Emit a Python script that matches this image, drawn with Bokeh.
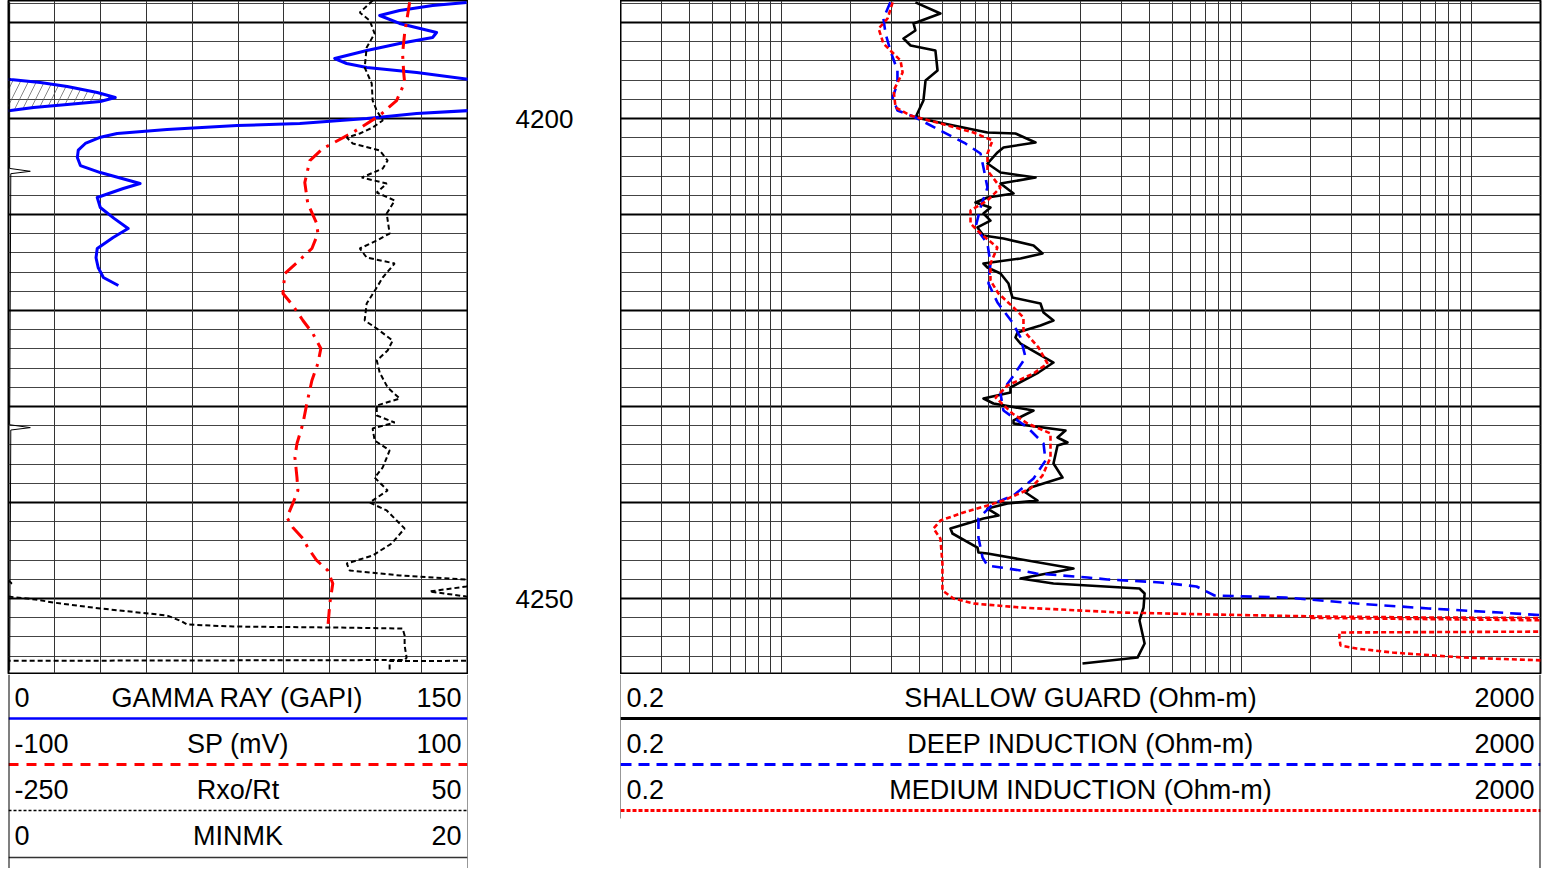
import math
from bokeh.plotting import figure
from bokeh.layouts import row, column
from bokeh.models import Range1d, FixedTicker, Grid, Span, Spacer
from bokeh.core.properties import value
from bokeh.embed import file_html
from bokeh.resources import INLINE

DEPTH_LABELS = [4200, 4250]

GR_DEPTH = [4187.92, 4188.23, 4188.75, 4189.27, 4190.10, 4191.04, 4191.56, 4192.19, 4192.92, 4193.75,
            4194.27, 4194.69, 4195.21, 4195.94, 4196.25, 4196.67, 4197.29, 4197.81, 4198.23, 4198.54,
            4198.85, 4199.17, 4199.48, 4200.00, 4200.52, 4200.73, 4201.15, 4201.56, 4201.98, 4202.60,
            4203.30, 4204.06, 4204.90, 4205.63, 4206.77, 4207.29, 4208.23, 4209.27, 4210.40, 4211.46,
            4212.40, 4213.54, 4214.50, 4215.52, 4216.56, 4217.40]
GR_VALUE = [149.7, 138.6, 127.8, 121.3, 127.8, 139.9, 138.6, 127.8, 117.1, 106.6,
            110.5, 117.1, 133.4, 150.7, 160.4, 169.2, 179.0, 184.9, 180.0, 169.2,
            158.2, 150.7, 133.4, 117.1, 95.2, 74.7, 51.8, 35.5, 29.7, 25.1,
            22.8, 22.5, 23.5, 30.0, 43.0, 37.5, 29.0, 30.0, 34.5, 39.1,
            34.2, 29.0, 28.6, 29.3, 31.0, 35.9]

SP_DEPTH = [4187.9, 4191.15, 4193.23, 4195.21, 4196.25, 4198.13, 4199.69, 4201.46, 4203.13, 4204.38,
            4206.67, 4208.85, 4210.94, 4211.98, 4213.54, 4215.0, 4216.15, 4218.23, 4219.48, 4221.04,
            4222.40, 4223.96, 4225.52, 4227.29, 4229.69, 4231.77, 4233.85, 4235.31, 4237.40, 4238.75,
            4240.10, 4241.56, 4242.60, 4243.75, 4244.69, 4246.04, 4247.08, 4248.44, 4250.52, 4253.13]
SP_VALUE = [74.8, 72.6, 71.7, 72.2, 72.6, 69.1, 61.7, 50.0, 37.0, 31.3,
            29.1, 30.4, 34.3, 34.8, 32.2, 25.7, 20.4, 19.6, 23.9, 28.3,
            32.6, 36.1, 34.8, 32.2, 30.0, 28.3, 25.7, 24.8, 25.7, 26.1,
            23.9, 21.3, 23.9, 28.3, 30.4, 34.3, 39.1, 41.3, 40.0, 39.1]

RXO_DEPTH = [4187.71, 4188.96, 4189.79, 4191.15, 4192.60, 4194.69, 4196.35, 4198.13, 4199.17, 4200.21,
             4200.94, 4201.56, 4201.98, 4202.60, 4203.33, 4204.38, 4205.21, 4206.15, 4206.77, 4207.71,
             4208.54, 4209.90, 4211.98, 4212.71, 4213.54, 4214.48, 4215.10, 4216.56, 4217.60, 4219.27,
             4221.04, 4221.88, 4223.13, 4224.17, 4225.21, 4226.46, 4228.02, 4229.17, 4229.90, 4230.94,
             4231.67, 4232.29, 4233.54, 4234.58, 4236.35, 4237.40, 4238.75, 4240.00, 4240.83, 4242.71,
             4244.27, 4245.52, 4246.35, 4247.08, 4247.60, 4248.02, 4248.40, 4248.75, 4249.27, 4249.79,
             4250.10, 4250.42, 4251.04, 4251.77, 4252.40, 4252.71, 4252.92, 4253.02, 4253.13, 4253.85,
             4254.90, 4256.15, 4256.41, 4256.51, 4257.50]
RXO_VALUE = [-12.0, -20.4, -13.9, -10.7, -15.9, -17.2, -12.6, -12.0, -9.3, -5.4,
             -12.0, -20.4, -28.9, -25.0, -7.4, -2.2, -5.4, -19.1, -2.8, -9.3,
             2.4, -2.8, -0.9, -9.3, -20.4, -15.9, 2.4, -5.4, -9.3, -15.9,
             -17.2, -9.3, 1.1, -2.2, -9.3, -7.4, -2.2, 5.7, -9.3, -9.3,
             2.4, -12.0, -10.7, -0.9, -5.4, -10.7, -2.2, -13.9, -2.8, 8.9,
             0.4, -12.0, -28.9, -27.0, 5.7, 49.3, 52.0, 49.3, 25.2, 49.3,
             67.6, 79.3, 110.0, 153.7, 163.5, 166.7, 196.7, 262.0, 307.6, 308.9,
             308.9, 310.2, 309.0, -0.9, -0.9]

MINMK_DEPTH = [4187.9, 4205.2, 4205.5, 4205.75, 4231.9, 4232.2, 4232.45, 4257.5]
MINMK_VALUE = [0.05, 0.05, 0.95, 0.1, 0.05, 0.95, 0.1, 0.05]

SG_DEPTH = [4187.9, 4189.06, 4190.10, 4190.83, 4191.67, 4192.40, 4192.92, 4195.0, 4196.04, 4198.13,
            4199.69, 4200.0, 4200.73, 4201.46, 4201.56, 4202.50, 4203.02, 4203.54, 4204.69, 4205.63,
            4206.15, 4206.77, 4207.81, 4208.23, 4208.75, 4209.27, 4209.90, 4210.63, 4211.35, 4212.19,
            4212.50, 4213.23, 4214.06, 4214.58, 4215.10, 4215.52, 4216.15, 4217.19, 4218.65, 4219.27,
            4220.21, 4221.04, 4221.56, 4222.29, 4222.81, 4223.44, 4225.42, 4226.46, 4228.02, 4228.54,
            4229.17, 4229.69, 4230.42, 4231.46, 4231.77, 4232.50, 4233.23, 4233.75, 4234.06, 4235.94,
            4237.40, 4238.44, 4238.96, 4239.79, 4240.10, 4240.63, 4241.35, 4241.67, 4242.08, 4242.71,
            4243.23, 4244.69, 4245.21, 4245.31, 4246.88, 4247.92, 4248.44, 4248.96, 4249.48, 4250.94,
            4252.29, 4254.69, 4256.15, 4256.77]
SG_VALUE = [3.83, 4.92, 3.76, 3.83, 3.40, 3.65, 4.68, 4.78, 4.24, 4.15,
            3.87, 4.03, 5.61, 7.88, 10.43, 12.75, 9.25, 8.71, 7.88, 8.98,
            12.75, 8.98, 10.23, 7.88, 6.99, 8.12, 7.57, 8.12, 7.13, 7.57,
            9.25, 12.50, 13.67, 10.97, 7.57, 7.88, 8.98, 9.73, 10.12, 13.40,
            13.81, 15.26, 13.40, 10.64, 10.43, 10.97, 15.26, 13.13, 9.92, 9.92,
            7.57, 8.37, 12.50, 10.23, 10.23, 17.21, 15.89, 17.56, 15.89, 15.26,
            16.70, 12.13, 11.54, 13.00, 9.63, 7.88, 8.80, 7.57, 6.65, 5.44,
            5.55, 7.13, 7.20, 7.88, 18.65, 10.97, 15.26, 36.1, 38.0, 37.6,
            36.1, 38.0, 35.4, 20.4]

ID_DEPTH = [4187.9, 4189.58, 4191.15, 4192.92, 4195.0, 4196.35, 4197.81, 4199.17, 4199.79, 4201.25,
            4202.60, 4203.65, 4205.10, 4207.19, 4209.27, 4211.35, 4213.02, 4215.10, 4217.19, 4219.17,
            4221.25, 4222.81, 4224.90, 4226.77, 4228.65, 4230.42, 4232.19, 4233.85, 4235.63, 4237.50,
            4239.27, 4240.10, 4241.67, 4243.65, 4245.73, 4246.56, 4247.08, 4247.40, 4247.81, 4248.02,
            4248.33, 4248.75, 4249.69, 4249.90, 4250.52, 4251.04, 4251.46, 4251.77, 4254.0, 4257.5]
ID_VALUE = [2.98, 2.78, 2.84, 2.98, 3.20, 3.20, 3.05, 3.20, 3.76, 4.92,
            6.32, 7.35, 7.57, 7.88, 7.35, 6.99, 7.88, 8.12, 7.96, 8.71,
            10.12, 10.97, 11.54, 10.23, 8.98, 9.25, 11.77, 13.81, 14.09, 12.50,
            10.23, 8.37, 7.20, 7.20, 7.50, 7.88, 10.97, 12.87, 21.5, 26.2,
            44.5, 63.9, 76.5, 155.7, 317, 652, 1327, 2103, 2600, 2800]

IM_DEPTH = [4187.9, 4189.58, 4190.63, 4192.19, 4193.96, 4195.21, 4197.08, 4198.85, 4199.69, 4200.52,
            4201.46, 4202.29, 4203.65, 4205.42, 4207.19, 4208.54, 4209.58, 4210.94, 4211.98, 4213.44,
            4215.10, 4216.88, 4218.23, 4219.69, 4220.73, 4222.08, 4223.85, 4225.52, 4226.56, 4227.81,
            4229.06, 4230.73, 4231.77, 4232.81, 4235.31, 4237.19, 4238.54, 4239.79, 4240.31, 4241.04,
            4241.88, 4242.71, 4243.75, 4246.35, 4249.17, 4250.0, 4250.52, 4250.94, 4251.46, 4251.67,
            4251.88, 4251.98, 4252.03, 4252.29, 4253.44, 4253.54, 4254.06, 4254.90, 4255.21, 4255.63,
            4256.15, 4256.46, 4257.5]
IM_VALUE = [3.05, 2.90, 2.65, 2.78, 3.30, 3.37, 3.08, 3.14, 3.65, 4.92,
            6.85, 8.29, 7.88, 7.88, 8.98, 7.88, 6.65, 6.65, 7.35, 8.71,
            8.12, 8.12, 8.80, 10.23, 11.30, 11.30, 13.13, 14.37, 12.50, 9.63,
            8.54, 10.12, 11.77, 14.81, 14.81, 13.67, 12.13, 9.25, 7.88, 6.20,
            4.92, 4.59, 4.92, 5.02, 5.02, 5.61, 6.85, 10.97, 29.9, 76.5,
            223, 652, 2103, 25000, 25000, 2670, 2670, 2700, 3170, 4550,
            9250, 21000, 25000]

LEFT_HEADERS = ["GAMMA RAY (GAPI)", "SP (mV)", "Rxo/Rt", "MINMK"]
LEFT_MIN = ["0", "-100", "-250", "0"]
LEFT_MAX = ["150", "100", "50", "20"]
RIGHT_HEADERS = ["SHALLOW GUARD (Ohm-m)", "DEEP INDUCTION (Ohm-m)", "MEDIUM INDUCTION (Ohm-m)"]
RIGHT_MIN = ["0.2", "0.2", "0.2"]
RIGHT_MAX = ["2000", "2000", "2000"]

# ---------------- helpers ----------------
FONT = "Liberation Sans"
FS = "27px"
FS_DEPTH = "26px"
TOP, BOT = 4187.708, 4257.8125   # frame spans page y 0 .. 673
NAN = float("nan")


def wrap(depth, vals, lim, fn, log=False):
    """Backup (wrap-around) display of the part of a curve beyond its scale limit."""
    tr = (lambda v: math.log10(v)) if log else (lambda v: v)
    D, V = [], []
    for i, (d, v) in enumerate(zip(depth, vals)):
        if i:
            d0, v0 = depth[i - 1], vals[i - 1]
            if (v0 - lim) * (v - lim) < 0:
                t = (tr(lim) - tr(v0)) / (tr(v) - tr(v0))
                dc = d0 + t * (d - d0)
                D.append(dc); V.append(fn(lim))
                if v < lim:
                    D.append(dc); V.append(NAN)
        if v >= lim:
            D.append(d); V.append(fn(v))
        elif not V or not math.isnan(V[-1]):
            D.append(d); V.append(NAN)
    return D, V


def segments(D, V):
    segs, cd, cv = [], [], []
    for d, v in zip(D, V):
        if math.isnan(v):
            if len(cd) > 1:
                segs.append((cd, cv))
            cd, cv = [], []
        else:
            cd.append(d); cv.append(v)
    if len(cd) > 1:
        segs.append((cd, cv))
    return segs


def track(width, xr, log=False, mbl=1, mbr=1):
    kw = dict(width=width, height=674, x_range=xr, y_range=Range1d(BOT, TOP),
              output_backend="svg", toolbar_location=None,
              x_axis_location=None, y_axis_location=None,
              min_border_top=0, min_border_bottom=1, min_border_left=mbl, min_border_right=mbr)
    if log:
        kw["x_axis_type"] = "log"
    p = figure(**kw)
    p.grid.visible = False
    p.outline_line_color = "black"
    p.outline_line_width = 2
    p.background_fill_color = "white"
    major = list(range(4180, 4270, 10))
    minor = [d for d in range(4180, 4270, 2) if d % 10]
    p.add_layout(Grid(dimension=1, ticker=FixedTicker(ticks=major, minor_ticks=minor),
                      grid_line_color="black", grid_line_width=2,
                      minor_grid_line_color="#444444", minor_grid_line_width=1))
    return p


# ---------------- left track ----------------
pl = track(468, Range1d(0, 150), mbl=8, mbr=1)
pl.extra_x_ranges = {"sp": Range1d(-100, 100), "rxo": Range1d(-250, 50), "mk": Range1d(0, 20)}
pl.add_layout(Grid(dimension=0, ticker=FixedTicker(ticks=[15 * i for i in range(1, 10)]),
                   grid_line_color="#333333", grid_line_width=1))

gd, gv = wrap(GR_DEPTH, GR_VALUE, 150, lambda v: v - 150)
for sd, sv in segments(gd, gv):
    pl.harea(x1=[0] * len(sv), x2=sv, y=sd, fill_color=None, fill_alpha=0,
             hatch_pattern="/", hatch_color="#555555", hatch_weight=0.7, hatch_scale=16)
pl.line(gv, gd, line_color="#0000ff", line_width=3, line_join="round")
pl.line(GR_VALUE, GR_DEPTH, line_color="#0000ff", line_width=3, line_join="round")

pl.line(SP_VALUE, SP_DEPTH, x_range_name="sp", line_color="#ff0000", line_width=3,
        line_dash="15 7 3 7", line_join="round")

rd, rv = wrap(RXO_DEPTH, RXO_VALUE, 50, lambda v: v - 300)
pl.line(RXO_VALUE, RXO_DEPTH, x_range_name="rxo", line_color="black", line_width=2, line_dash="5 3")
pl.line(rv, rd, x_range_name="rxo", line_color="black", line_width=2, line_dash="5 3")

pl.line(MINMK_VALUE, MINMK_DEPTH, x_range_name="mk", line_color="black", line_width=1)

# ---------------- depth track ----------------
pd_ = figure(width=152, height=674, x_range=Range1d(0, 1), y_range=Range1d(BOT, TOP),
             output_backend="svg", toolbar_location=None,
             x_axis_location=None, y_axis_location=None, min_border=0,
             min_border_top=0, min_border_bottom=1)
pd_.grid.visible = False
pd_.outline_line_color = None
pd_.text(x=[0.5] * len(DEPTH_LABELS), y=DEPTH_LABELS, text=[str(d) for d in DEPTH_LABELS],
         text_align="center", text_baseline="middle", text_font=value(FONT),
         text_font_size=FS_DEPTH, text_color="black")

# ---------------- right track (log) ----------------
pr = track(922, Range1d(0.2, 2000), log=True, mbl=0, mbr=2)
log_ticks = [m * 10 ** k for k in range(-1, 4) for m in range(1, 10)]
log_ticks = [t for t in log_ticks if 0.2 < t < 2000]
pr.add_layout(Grid(dimension=0, ticker=FixedTicker(ticks=log_ticks),
                   grid_line_color="#333333", grid_line_width=1))

pr.line(SG_VALUE, SG_DEPTH, line_color="black", line_width=2.6, line_join="round")
pr.line(ID_VALUE, ID_DEPTH, line_color="#0000ff", line_width=2.6, line_dash="11 7")
pr.line(IM_VALUE, IM_DEPTH, line_color="#ff0000", line_width=2.6, line_dash="5 3")
md, mv = wrap(IM_DEPTH, IM_VALUE, 2000, lambda v: v / 10, log=True)
pr.line(mv, md, line_color="#ff0000", line_width=2.6, line_dash="5 3")

# ---------------- headers ----------------
HH = 194


def header(width, mbl, mbr):
    p = figure(width=width, height=HH, x_range=Range1d(0, 1), y_range=Range1d(HH, 0),
               output_backend="svg", toolbar_location=None,
               x_axis_location=None, y_axis_location=None,
               min_border_top=0, min_border_bottom=0, min_border_left=mbl, min_border_right=mbr)
    p.grid.visible = False
    p.outline_line_color = None
    return p


def header_text(p, names, mins, maxs):
    ys = [23 + 46 * i for i in range(len(names))]
    common = dict(text_baseline="middle", text_font=value(FONT), text_font_size=FS,
                  text_color="black")
    p.text(x=[0] * len(ys), y=ys, text=mins, text_align="left", x_offset=6, **common)
    p.text(x=[0.5] * len(ys), y=ys, text=names, text_align="center", **common)
    p.text(x=[1] * len(ys), y=ys, text=maxs, text_align="right", x_offset=-6, **common)


hl = header(468, 8, 1)
header_text(hl, LEFT_HEADERS, LEFT_MIN, LEFT_MAX)
hl.add_layout(Span(location=44, dimension="width", line_color="#0000ff", line_width=2.5))
hl.add_layout(Span(location=90, dimension="width", line_color="#ff0000", line_width=3, line_dash="10 8"))
hl.add_layout(Span(location=136, dimension="width", line_color="black", line_width=1.5, line_dash="3 2"))
hl.add_layout(Span(location=183, dimension="width", line_color="#333333", line_width=1.5))
hl.add_layout(Span(location=0, dimension="height", line_color="black", line_width=2))
hl.add_layout(Span(location=1, dimension="height", line_color="#333333", line_width=1))

hr = header(922, 0, 2)
header_text(hr, RIGHT_HEADERS, RIGHT_MIN, RIGHT_MAX)
hr.add_layout(Span(location=44, dimension="width", line_color="black", line_width=3))
hr.add_layout(Span(location=90, dimension="width", line_color="#0000ff", line_width=3, line_dash="11 7"))
hr.add_layout(Span(location=136, dimension="width", line_color="#ff0000", line_width=3, line_dash="4 2"))
hr.add_layout(Span(location=1, dimension="height", line_color="black", line_width=2))
hr.segment(x0=[0], y0=[0], x1=[0], y1=[144], line_color="#333333", line_width=1)

layout = column(row(pl, pd_, pr), row(hl, Spacer(width=152, height=HH), hr))

open("out.html", "w").write(file_html(layout, INLINE))
